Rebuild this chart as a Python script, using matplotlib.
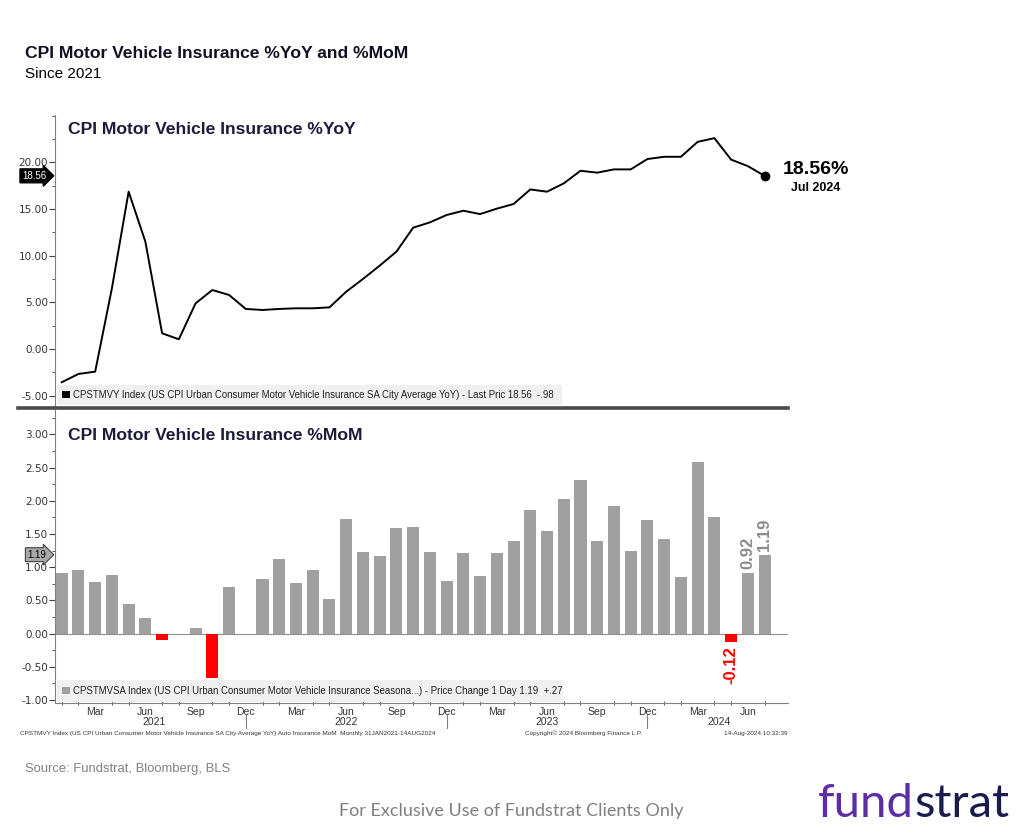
import numpy as np
import matplotlib.pyplot as plt
import matplotlib.transforms as mtrans
from matplotlib.lines import Line2D
from matplotlib.patches import Rectangle

# monthly data, Jan 2021 .. Jul 2024
months = np.arange(43)
yoy = [-3.57, -2.68, -2.43, 6.5, 16.86, 11.5, 1.68, 1.04, 4.89, 6.32, 5.79, 4.29,
       4.18, 4.29, 4.36, 4.36, 4.46, 6.14, 7.5, 8.93, 10.43, 13.0, 13.57, 14.36,
       14.82, 14.46, 15.04, 15.54, 17.1, 16.86, 17.75, 19.1, 18.9, 19.25, 19.25, 20.36,
       20.6, 20.6, 22.2, 22.6, 20.3, 19.6, 18.56]
mom = [0.91, 0.965, 0.78, 0.88, 0.45, 0.23, -0.10, np.nan, 0.09, -0.67, 0.70, np.nan,
       0.83, 1.12, 0.76, 0.965, 0.52, 1.72, 1.23, 1.17, 1.59, 1.60, 1.23, 0.79,
       1.21, 0.87, 1.22, 1.40, 1.86, 1.54, 2.03, 2.32, 1.39, 1.92, 1.25, 1.71,
       1.43, 0.86, 2.59, 1.76, -0.12, 0.92, 1.19]
month_ticks = [2, 5, 8, 11, 14, 17, 20, 23, 26, 29, 32, 35, 38, 41]
month_labels = ['Mar', 'Jun', 'Sep', 'Dec'] * 3 + ['Mar', 'Jun']
year_pos = [5.5, 17, 29, 39.3]
year_labels = ['2021', '2022', '2023', '2024']
year_breaks = [11, 23, 35]

SANS = ['Liberation Sans', 'DejaVu Sans']
LATO = ['Lato', 'DejaVu Sans']
W, H = 1024, 833

def fx(px):
    return px / W

def fy(py):
    return 1 - py / H

fig = plt.figure(figsize=(10.24, 8.33), dpi=100)
ax1 = fig.add_axes([fx(55), fy(407), fx(788) - fx(55), fy(115) - fy(407)])
ax2 = fig.add_axes([fx(55), fy(703), fx(788) - fx(55), fy(410) - fy(703)])

for ax in (ax1, ax2):
    ax.set_xlim(-0.4, 43.4)
    for s in ('top', 'right'):
        ax.spines[s].set_visible(False)
    ax.spines['left'].set_color('#808080')
    ax.tick_params(axis='y', which='major', length=4, color='#404040', labelsize=7.5,
                   labelcolor='#333333', pad=1)
    ax.tick_params(axis='y', which='minor', length=2, color='#404040')

# ---- top: YoY line
ax1.plot(months, yoy, color='black', lw=1.4)
ax1.plot(months[-1], yoy[-1], 'o', color='black', ms=6, clip_on=False)
ax1.set_ylim(-6.22, 25.08)
ax1.set_yticks(np.arange(-5, 21, 5))
ax1.set_yticks(np.arange(-5, 25.1, 2.5), minor=True)
ax1.yaxis.set_major_formatter(lambda v, p: f'{v:.2f}')
ax1.spines['bottom'].set_visible(False)
ax1.set_xticks([])
ax1.add_patch(Rectangle((0.003, 0.007), 0.689, 0.07, transform=ax1.transAxes,
                        fc='#f0f0f0', ec='none', zorder=1))
ax1.add_patch(Rectangle((0.009, 0.03), 0.011, 0.024, transform=ax1.transAxes,
                        fc='black', ec='none', zorder=2))
ax1.text(0.024, 0.041, 'CPSTMVY Index (US CPI Urban Consumer Motor Vehicle Insurance SA City Average YoY) - Last Pric 18.56  -.98',
         transform=ax1.transAxes, va='center', ha='left', fontsize=6.9, family=SANS, color='#222222', zorder=3)
bl1 = mtrans.blended_transform_factory(ax1.transAxes, ax1.transData)
ax1.text(-0.012, yoy[-1], '18.56', transform=bl1, ha='right', va='center', fontsize=7,
         color='white', family=SANS,
         bbox=dict(boxstyle='rarrow,pad=0.2', fc='black', ec='black'))

# ---- bottom: MoM bars
mom_arr = np.array(mom)
colors = ['#ff0000' if v < 0 else '#a0a0a0' for v in np.nan_to_num(mom_arr)]
ax2.bar(months, mom_arr, width=0.72, color=colors, zorder=2)
ax2.axhline(0, color='#909090', lw=0.8, zorder=1)
ax2.set_ylim(-1.044, 3.369)
ax2.set_yticks(np.arange(-1, 3.01, 0.5))
ax2.set_yticks(np.arange(-1, 3.3, 0.25), minor=True)
ax2.yaxis.set_major_formatter(lambda v, p: f'{v:.2f}')
ax2.spines['bottom'].set_color('#808080')
ax2.set_xticks(month_ticks)
ax2.set_xticklabels(month_labels, family=SANS)
ax2.set_xticks(months, minor=True)
ax2.tick_params(axis='x', which='major', length=0, pad=3, labelsize=7.5, labelcolor='#333333')
ax2.tick_params(axis='x', which='minor', length=3, direction='inout', color='#404040')
bl2x = mtrans.blended_transform_factory(ax2.transData, ax2.transAxes)
for p, y in zip(year_pos, year_labels):
    ax2.text(p, -0.065, y, transform=bl2x, ha='center', va='center', fontsize=7.5,
             color='#333333', family=SANS)
for b in year_breaks:
    ax2.plot([b, b], [-0.041, -0.085], transform=bl2x, color='#808080', lw=0.8, clip_on=False)

ax2.add_patch(Rectangle((0.003, 0.003), 0.69, 0.075, transform=ax2.transAxes,
                        fc='#f0f0f0', ec='none', zorder=3))
ax2.add_patch(Rectangle((0.009, 0.03), 0.011, 0.024, transform=ax2.transAxes,
                        fc='#a0a0a0', ec='none', zorder=4))
ax2.text(0.024, 0.042, 'CPSTMVSA Index (US CPI Urban Consumer Motor Vehicle Insurance Seasona...) - Price Change 1 Day 1.19  +.27',
         transform=ax2.transAxes, va='center', ha='left', fontsize=6.9, family=SANS, color='#222222', zorder=5)
bl2 = mtrans.blended_transform_factory(ax2.transAxes, ax2.transData)
ax2.text(-0.012, mom[-1], '1.19', transform=bl2, ha='right', va='center', fontsize=7,
         color='black', family=SANS,
         bbox=dict(boxstyle='rarrow,pad=0.2', fc='#a8a8a8', ec='#404040', lw=0.8))

ax2.text(41, mom[41] + 0.05, '0.92', rotation=90, ha='center', va='bottom', fontsize=12,
         fontweight='bold', color='#8c8c8c', family=SANS)
ax2.text(42, mom[42] + 0.05, '1.19', rotation=90, ha='center', va='bottom', fontsize=12,
         fontweight='bold', color='#8c8c8c', family=SANS)
ax2.text(40, mom[40] - 0.07, '-0.12', rotation=90, ha='center', va='top', fontsize=12,
         fontweight='bold', color='#ff0000', family=SANS)

# separator between panels
fig.add_artist(Line2D([fx(18), fx(788)], [fy(408), fy(408)], color='#4a4a4a', lw=2.6))

# panel titles
fig.text(fx(68), fy(130), 'CPI Motor Vehicle Insurance %YoY', fontsize=12.6, fontweight='bold',
         color='#1c1c3a', family=SANS, va='center')
fig.text(fx(68), fy(436), 'CPI Motor Vehicle Insurance %MoM', fontsize=12.6, fontweight='bold',
         color='#1c1c3a', family=SANS, va='center')

# last value annotation
fig.text(fx(816), fy(170), '18.56%', fontsize=14, fontweight='bold', ha='center', va='center',
         family=SANS, color='black')
fig.text(fx(816), fy(188), 'Jul 2024', fontsize=9, fontweight='bold', ha='center', va='center',
         family=SANS, color='black')

# header
fig.text(fx(25), fy(53), 'CPI Motor Vehicle Insurance %YoY and %MoM', fontsize=12.6, fontweight='bold',
         family=SANS, color='#111122', va='center')
fig.text(fx(25), fy(74), 'Since 2021', fontsize=11, family=SANS, color='black', va='center')

# bloomberg footer
fig.text(fx(20), fy(733), 'CPSTMVY Index (US CPI Urban Consumer Motor Vehicle Insurance SA City Average YoY) Auto Insurance MoM  Monthly 31JAN2021-14AUG2024',
         fontsize=4.6, family=SANS, color='#333333', va='center')
fig.text(fx(525), fy(733), 'Copyright\u00a9 2024 Bloomberg Finance L.P.', fontsize=4.6, family=SANS,
         color='#333333', va='center')
fig.text(fx(788), fy(733), '14-Aug-2024 10:32:39', fontsize=4.6, family=SANS, color='#333333',
         va='center', ha='right')

# source / disclaimer / logo
fig.text(fx(25), fy(769), 'Source: Fundstrat, Bloomberg, BLS', fontsize=9.4, family=SANS,
         color='#808080', va='center')
fig.text(fx(511), fy(811), 'For Exclusive Use of Fundstrat Clients Only', fontsize=13, family=LATO,
         color='#7f7f7f', va='center', ha='center')
t1 = fig.text(fx(818), fy(817), 'fund', fontsize=34, family=LATO, color='#5b2ea6', va='baseline')
fig.add_artist(plt.Annotation('strat', xy=(1, 0), xycoords=t1, va='bottom', ha='left',
                              fontsize=34, family=LATO, color='#1b1c4e'))

fig.savefig('out.png', dpi=100)
